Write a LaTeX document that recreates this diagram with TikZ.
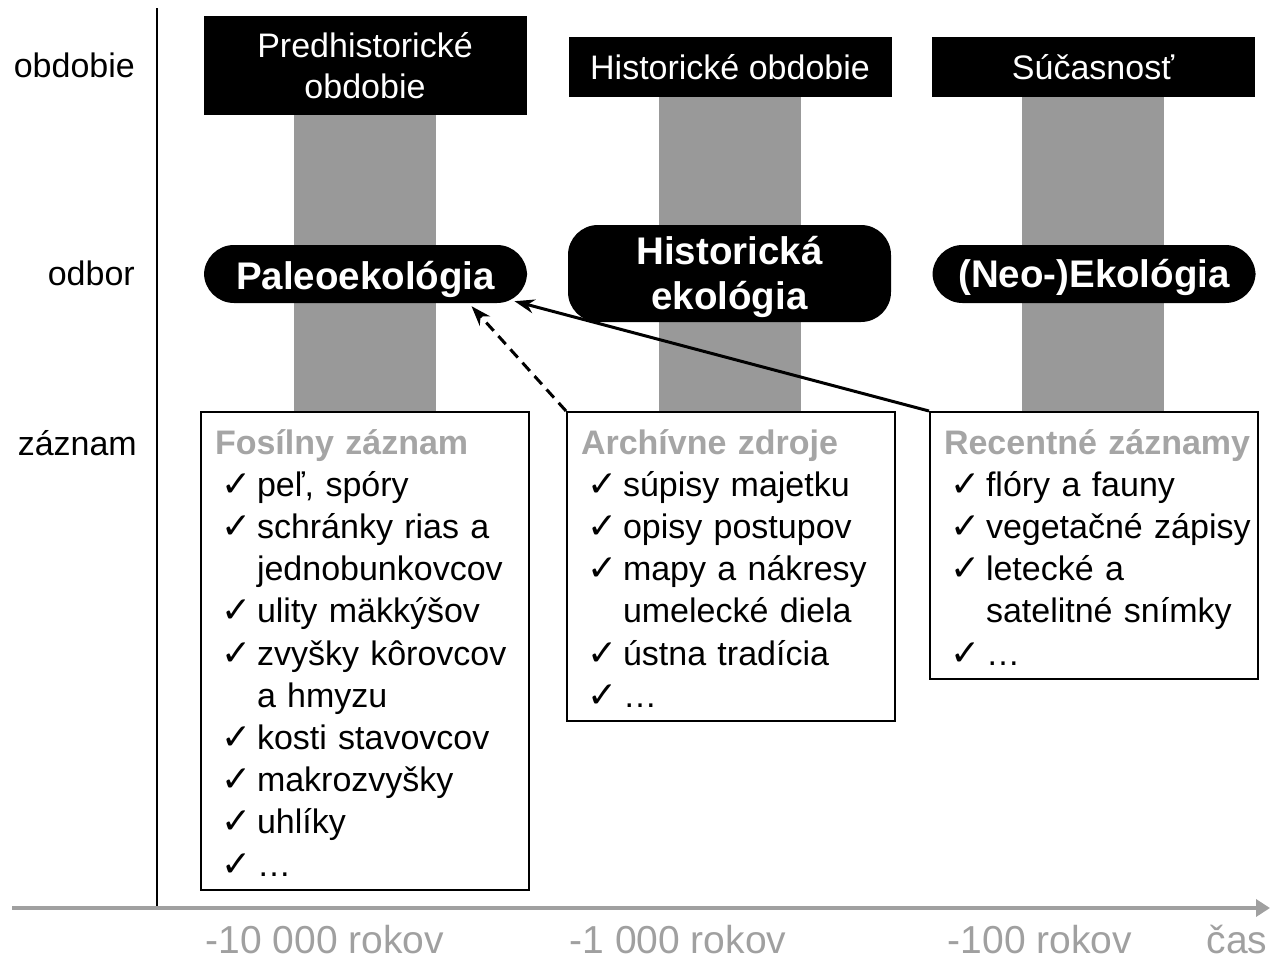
\documentclass[tikz,border=0pt]{standalone}
\usepackage{fontspec}
\setmainfont{Liberation Sans}
\newfontfamily\chkfont{DejaVu Sans}
\usetikzlibrary{arrows,arrows.meta,positioning,backgrounds}
\definecolor{bargray}{RGB}{153,153,153}
\definecolor{titlegray}{RGB}{165,165,165}
\definecolor{axisgray}{RGB}{160,160,160}
\tikzstyle{period}=[rectangle,fill=black,text=white,minimum width=323pt,
minimum height=60pt,inner sep=0pt,align=center,font=\fontsize{34}{41}\selectfont]
\tikzstyle{field}=[rectangle,rounded corners=30pt,fill=black,text=white,
minimum width=323pt,minimum height=58pt,inner sep=0pt,align=center,
font=\bfseries\fontsize{38.5}{45}\selectfont]
\tikzstyle{record}=[rectangle,draw=black,line width=2pt,fill=white,anchor=north,
text width=316pt,inner xsep=6pt,inner ysep=4pt,align=left,
font=\fontsize{34}{42.2}\selectfont]
\tikzstyle{rowlabel}=[anchor=base east,inner sep=0pt,font=\fontsize{34}{41}\selectfont]
\tikzstyle{timelabel}=[text=axisgray,anchor=base,inner sep=0pt,font=\fontsize{39}{41}\selectfont]

\newcommand{\rtitle}[1]{\hspace*{8pt}\rule{0pt}{38pt}{\bfseries\color{titlegray}#1}}
\newcommand{\itm}[1]{\hspace*{14pt}\mbox{\makebox[36pt][l]{\chkfont\fontsize{36}{36}\selectfont ✓}#1}}
\newcommand{\cnt}[1]{\hspace*{50pt}\mbox{#1}}
\newcommand{\rend}{\rule[-10pt]{0pt}{10pt}}
\newcommand{\lowered}[2]{\raisebox{-#1}[\height][\depth]{#2}}

\begin{document}
\begin{tikzpicture}[x=1pt,y=-1pt,>={Stealth[length=20pt,width=14pt]}]
    \useasboundingbox (0,0) rectangle (1272,961);

    % periods
    \node[period,minimum height=99pt] (pre) at (365,65.5) {Predhistorické\\obdobie};
    \node[period] (his) at (730,67) {Historické obdobie};
    \node[period] (now) at (1093,67) {Súčasnosť};

    % records
    \node[record] (fos) at (365,411) {\rtitle{Fosílny záznam}\\
        \itm{peľ, spóry}\\
        \itm{schránky rias a}\\
        \cnt{jednobunkovcov}\\
        \itm{ulity mäkkýšov}\\
        \itm{zvyšky kôrovcov}\\
        \cnt{a hmyzu}\\
        \itm{kosti stavovcov}\\
        \itm{makrozvyšky}\\
        \itm{uhlíky}\\
        \itm{…}\rend};
    \node[record] (arch) at (731,411) {\rtitle{Archívne zdroje}\\
        \itm{súpisy majetku}\\
        \itm{opisy postupov}\\
        \itm{mapy a nákresy}\\
        \cnt{umelecké diela}\\
        \itm{ústna tradícia}\\
        \itm{…}\rend};
    \node[record] (rec) at (1094,411) {\rtitle{Recentné záznamy}\\
        \itm{flóry a fauny}\\
        \itm{vegetačné zápisy}\\
        \itm{letecké a}\\
        \cnt{satelitné snímky}\\
        \itm{…}\rend};

    % bars
    \begin{scope}[on background layer]
        \fill[bargray] ([xshift=-71pt]pre.south) rectangle ([xshift=71pt]fos.north);
        \fill[bargray] ([xshift=-71pt]his.south) rectangle ([xshift=71pt]his.south |- arch.north);
        \fill[bargray] ([xshift=-71pt]now.south) rectangle ([xshift=71pt]now.south |- rec.north);
    \end{scope}

    % fields
    \node[field] (paleo) at (365.5,274) {\lowered{5pt}{Paleoekológia}};
    \node[field,minimum height=97pt] (histeco) at (729.5,273.5) {\lowered{3pt}{Historická}\\\lowered{3pt}{ekológia}};
    \node[field] (neoeco) at (1094,274) {\lowered{3pt}{(Neo-)Ekológia}};

    % row labels
    \node[rowlabel] (lper) at (135,77) {obdobie};
    \node[rowlabel] (lfield) at (135,285) {odbor};
    \node[rowlabel] (lrec) at (137,455) {záznam};

    % axes
    \coordinate (vtop) at (157,8);
    \coordinate (tstart) at (12,908);
    \coordinate (tend) at (1270,908);
    \draw[line width=2pt] (vtop) -- (vtop |- tstart);
    \draw[axisgray,line width=4pt,-{Triangle[length=14pt,width=17pt]}] (tstart) -- (tend);

    \node[timelabel] (t1) at (325,953) {-10 000 rokov};
    \node[timelabel] (t2) at (678,953) {-1 000 rokov};
    \node[timelabel] (t3) at (1040,953) {-100 rokov};
    \node[timelabel] (t4) at (1237,953) {čas};

    % links
    \draw[->,line width=3pt,dash pattern=on 11pt off 7pt] (arch.north west) -- ([xshift=106pt,yshift=-3pt]paleo.south);
    \draw[->,line width=3pt] (rec.north west) -- ([xshift=149pt,yshift=2pt]paleo.south);
\end{tikzpicture}
\end{document}
